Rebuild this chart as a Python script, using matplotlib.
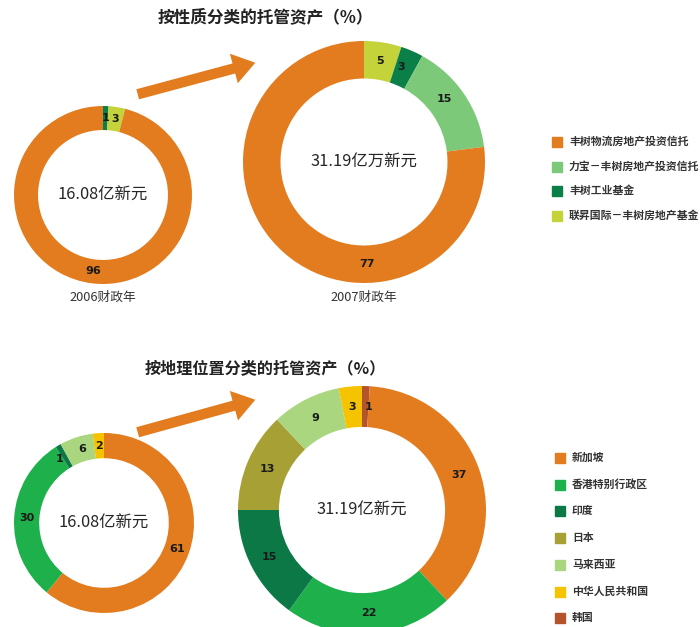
import matplotlib
matplotlib.use('Agg')
from matplotlib import pyplot as plt
import numpy as np

plt.rcParams['font.family'] = ['Noto Sans CJK SC', 'DejaVu Sans']

W, H = 700, 627

# 按性质分类（顺时针，从正上方开始）
nature_names = ['丰树物流房地产投资信托', '力宝－丰树房地产投资信托', '丰树工业基金', '联昇国际－丰树房地产基金']
nature_colors = ['#E27C1E', '#7CC97A', '#0A7F48', '#C4D33A']
nature_2006_idx = [2, 3, 0]
nature_2006_vals = [1, 3, 96]
nature_2007_idx = [3, 2, 1, 0]
nature_2007_vals = [5, 3, 15, 77]

# 按地理位置分类
geo_names = ['新加坡', '香港特别行政区', '印度', '日本', '马来西亚', '中华人民共和国', '韩国']
geo_colors = ['#E27C1E', '#1EB04B', '#0B7845', '#A6A035', '#A9D67F', '#F5C300', '#B4542B']
geo_2006_idx = [0, 1, 2, 4, 5]
geo_2006_vals = [61, 30, 1, 6, 2]
geo_2007_idx = [6, 0, 1, 2, 3, 4, 5]
geo_2007_vals = [1, 37, 22, 15, 13, 9, 3]

fig = plt.figure(figsize=(W / 100, H / 100), dpi=100)
fig.patch.set_facecolor('white')


def donut(cx, cy, r, inner, vals, idx, colors, center_text, label_shift=None):
    ax = fig.add_axes([(cx - r) / W, 1 - (cy + r) / H, 2 * r / W, 2 * r / H])
    cols = [colors[i] for i in idx]
    wedges, _ = ax.pie(vals, colors=cols, startangle=90, counterclock=False,
                       radius=1, wedgeprops=dict(width=1 - inner, edgecolor='none'))
    mid = (1 + inner) / 2
    for k, (w, v) in enumerate(zip(wedges, vals)):
        ang = np.deg2rad((w.theta1 + w.theta2) / 2)
        if label_shift and k in label_shift:
            ang += np.deg2rad(label_shift[k])
        ax.text(mid * np.cos(ang), mid * np.sin(ang), str(v), ha='center', va='center',
                fontsize=8, fontweight='bold', color='#1a1a1a', family='DejaVu Sans')
    ax.text(0, 0, center_text, ha='center', va='center', fontsize=11.8,
            fontweight='medium', color='#262626')
    ax.set_xlim(-1, 1)
    ax.set_ylim(-1, 1)
    ax.axis('off')
    return ax


donut(103, 195, 89, 0.73, nature_2006_vals, nature_2006_idx, nature_colors, '16.08亿新元')
donut(364, 162, 121, 0.69, nature_2007_vals, nature_2007_idx, nature_colors, '31.19亿万新元',
      label_shift={1: 2, 2: 4, 3: 43})
donut(104, 523, 90, 0.72, geo_2006_vals, geo_2006_idx, geo_colors, '16.08亿新元',
      label_shift={2: 4, 3: -2})
donut(362, 510, 124, 0.67, geo_2007_vals, geo_2007_idx, geo_colors, '31.19亿新元',
      label_shift={0: -2})

# overlay for titles, arrows and legends, in pixel units
ov = fig.add_axes([0, 0, 1, 1], zorder=-1)
ov.set_xlim(0, W)
ov.set_ylim(H, 0)
ov.axis('off')

ov.text(265, 17, '按性质分类的托管资产（%）', ha='center', va='center',
        fontsize=12, fontweight='bold', color='#222222')
ov.text(265, 368, '按地理位置分类的托管资产（%）', ha='center', va='center',
        fontsize=11.6, fontweight='bold', color='#222222')
ov.text(103, 297, '2006财政年', ha='center', va='center', fontsize=9.2, color='#333333')
ov.text(364, 297, '2007财政年', ha='center', va='center', fontsize=9.2, color='#333333')

for y0, y1 in [(95, 62), (433, 399)]:
    ov.annotate('', xy=(258, y1), xytext=(135, y0),
                arrowprops=dict(arrowstyle='simple,head_length=1.6,head_width=2.2,tail_width=0.75',
                                color='#E27C1E', mutation_scale=10, lw=0))

for i, (name, c) in enumerate(zip(nature_names, nature_colors)):
    y = 142 + i * 24.5
    ov.add_patch(plt.Rectangle((552, y - 5), 10, 10, color=c))
    ov.text(569, y, name, ha='left', va='center', fontsize=7.8, fontweight='bold', color='#333333')

for i, (name, c) in enumerate(zip(geo_names, geo_colors)):
    y = 458 + i * 26.7
    ov.add_patch(plt.Rectangle((555, y - 5), 10, 10, color=c))
    ov.text(572, y, name, ha='left', va='center', fontsize=7.8, fontweight='bold', color='#333333')

fig.savefig('out.png', dpi=100, facecolor='white')
